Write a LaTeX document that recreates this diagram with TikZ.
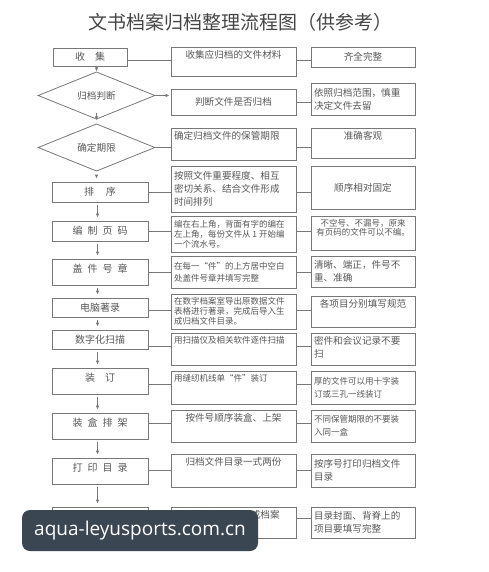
\documentclass[tikz,border=0pt]{standalone}
\usepackage{fontspec}
\setmainfont{Noto Sans CJK SC}
\newfontfamily\wmfont{Open Sans}
\usetikzlibrary{shapes.geometric,arrows.meta}

\definecolor{framec}{HTML}{787878}
\definecolor{inkc}{HTML}{585858}
\definecolor{stampc}{HTML}{3B4653}

\tikzset{
  cell/.style n args={4}{draw=framec, line width=0.8pt, text=inkc,
    inner xsep=3pt, inner ysep=3pt,
    execute at begin node={\begin{minipage}[c][#2][#3]{#1}#4},
    execute at end node={\end{minipage}}},
  bigtext/.style={font=\fontsize{9.6}{13}\selectfont},
  smalltext/.style={font=\fontsize{8.5}{9.8}\selectfont},
}

\begin{document}
\begin{tikzpicture}[x=1pt, y=-1pt,
    stage/.style={draw=framec, line width=0.8pt, text=inkc, inner sep=0pt,
      minimum width=96pt, font=\fontsize{10}{12}\selectfont},
    tall/.style={minimum height=26pt, text depth=7pt},
    judge/.style={diamond, draw=framec, line width=0.8pt, text=inkc, inner sep=0pt,
      minimum width=117pt, font=\fontsize{9.6}{12}\selectfont},
    link/.style={draw=framec, line width=0.8pt},
    flow/.style={link, -{Latex[length=4pt,width=3.5pt]}},
    gap/.style={shorten <=3pt, shorten >=3pt},
    stamp/.style={fill=stampc, rounded corners=8pt, inner sep=0pt,
      minimum width=236pt, minimum height=41pt, text=white,
      font=\wmfont\fontsize{19}{21}\selectfont}]
  \fill[white] (0,0) rectangle (489,572);
  \useasboundingbox (0,0) rectangle (489,572);

  \node[text=inkc!80!black, font=\fontsize{19}{22}\selectfont] (title) at (240.5,22) {文书档案归档整理流程图（供参考）};

  % left column
  \node[stage, minimum width=74pt, minimum height=18pt] (L1) at (90,57) {收\quad 集};
  \node[judge, minimum height=31pt] (D1) at (96.5,95.5) {归档判断};
  \node[judge, minimum height=33pt] (D2) at (96.5,147.5) {确定期限};
  \node[stage, minimum height=20pt] (L4) at (100,192) {排\hspace{1.2em}序};
  \node[stage, minimum height=20pt] (L5) at (100,231) {编\enspace 制\enspace 页\enspace 码};
  \node[stage, tall] (L6) at (100,272) {盖\enspace 件\enspace 号\enspace 章};
  \node[stage, minimum height=19pt] (L7) at (100,307.5) {电脑著录};
  \node[stage, minimum height=19pt] (L8) at (100,339.5) {数字化扫描};
  \node[stage, tall] (L9) at (100,381) {装\quad 订};
  \node[stage, tall] (L10) at (100,426) {装\enspace 盒\enspace 排\enspace 架};
  \node[stage, tall] (L11) at (100,471) {打\enspace 印\enspace 目\enspace 录};
  \node[stage, tall] (L12) at (100,520) {编\enspace 制\enspace 检\enspace 索};

  % middle column
  \node[cell={119pt}{23pt}{t}{\centering}, bigtext] (M1) at (233.5,61.5) {收集应归档的文件材料};
  \node[cell={119pt}{20pt}{c}{\centering}, bigtext] (M2) at (233.5,102) {判断文件是否归档};
  \node[cell={119pt}{26pt}{t}{\raggedright}, bigtext] (M3) at (233.5,144) {确定归档文件的保管期限};
  \node[cell={119pt}{40pt}{c}{\raggedright}, bigtext] (M4) at (233.5,189) {按照文件重要程度、相互\\密切关系、结合文件形成\\时间排列};
  \node[cell={119pt}{30pt}{c}{\raggedright}, smalltext] (M5) at (233.5,234) {编在右上角，背面有字的编在\\左上角，每份文件从 1 开始编\par\centering 一个流水号。};
  \node[cell={119pt}{26pt}{c}{\raggedright}, font=\fontsize{8.5}{12}\selectfont] (M6) at (233.5,272) {在每一“件”的上方居中空白\\处盖件号章并填写完整};
  \node[cell={119pt}{29pt}{c}{\raggedright}, smalltext] (M7) at (233.5,311.5) {在数字档案室导出原数据文件\\表格进行著录，完成后导入生\\成归档文件目录。};
  \node[cell={119pt}{26pt}{t}{\raggedright}, smalltext] (M8) at (233.5,349) {用扫描仪及相关软件逐件扫描};
  \node[cell={119pt}{27pt}{t}{\raggedright}, smalltext] (M9) at (233.5,387.5) {用缝纫机线单“件”装订};
  \node[cell={119pt}{26pt}{t}{\centering}, bigtext] (M10) at (233.5,426) {按件号顺序装盒、上架};
  \node[cell={119pt}{27pt}{t}{\centering}, bigtext] (M11) at (233.5,470.5) {归档文件目录一式两份};
  \node[cell={119pt}{25pt}{t}{\raggedright}, bigtext] (M12) at (233.5,522.5) {写归档说明、装订成档案\\目录};

  % right column
  \node[cell={98pt}{14pt}{c}{\centering}, bigtext] (R1) at (363,57) {齐全完整};
  \node[cell={98pt}{26pt}{c}{\raggedright}, bigtext] (R2) at (363,99) {依照归档范围，慎重\\决定文件去留};
  \node[cell={98pt}{24pt}{t}{\centering}, bigtext] (R3) at (363,143) {准确客观};
  \node[cell={98pt}{37pt}{c}{\centering}, bigtext] (R4) at (363,187.5) {顺序相对固定};
  \node[cell={98pt}{28pt}{t}{\centering}, smalltext] (R5) at (363,233) {不空号、不漏号，原来\\有页码的文件可以不编。};
  \node[cell={98pt}{25pt}{c}{\raggedright}, bigtext] (R6) at (363,271.5) {清晰、端正，件号不\par\centering 重、准确};
  \node[cell={98pt}{25pt}{t}{\centering}, bigtext] (R7) at (363,311.5) {各项目分别填写规范};
  \node[cell={98pt}{26pt}{t}{\raggedright}, bigtext] (R8) at (363,349) {密件和会议记录不要\\扫};
  \node[cell={98pt}{27pt}{c}{\raggedright}, font=\fontsize{8.5}{13}\selectfont] (R9) at (363,387.5) {厚的文件可以用十字装\\订或三孔一线装订};
  \node[cell={98pt}{26pt}{c}{\raggedright}, font=\fontsize{8.5}{13}\selectfont] (R10) at (363,426) {不同保管期限的不要装\\入同一盒};
  \node[cell={98pt}{27pt}{c}{\raggedright}, bigtext] (R11) at (363,470.5) {按序号打印归档文件\\目录};
  \node[cell={98pt}{25pt}{c}{\raggedright}, bigtext] (R12) at (363,522.5) {目录封面、背脊上的\\项目要填写完整};

  % down arrows
  \coordinate (ax) at (97.5,0);
  \draw[flow, shorten <=1pt] (D1.north |- L1.south) -- (D1.north);
  \draw[flow, shorten <=7pt, shorten >=3pt] (D1.south) -- (D2.north);
  \draw[flow, gap] (D2.south) -- (D2.south |- L4.north);
  \draw[flow, gap] (ax |- L4.south) -- (ax |- L5.north);
  \draw[flow, gap] (ax |- L5.south) -- (ax |- L6.north);
  \draw[flow, gap] (ax |- L6.south) -- (ax |- L7.north);
  \draw[flow, gap] (ax |- L7.south) -- (ax |- L8.north);
  \draw[flow, gap] (ax |- L8.south) -- (ax |- L9.north);
  \draw[flow, gap] (ax |- L9.south) -- (ax |- L10.north);
  \draw[flow, gap] (ax |- L10.south) -- (ax |- L11.north);
  \draw[flow, gap] (ax |- L11.south) -- (ax |- L12.north);

  % row links
  \coordinate (r1) at (0,60.5);
  \coordinate (r4) at (0,192);
  \coordinate (r5) at (0,231);
  \coordinate (r6) at (0,272);
  \coordinate (r7) at (0,310);
  \coordinate (r8) at (0,346.5);
  \coordinate (r9) at (0,384);
  \coordinate (r10) at (0,423);
  \coordinate (r11) at (0,470);
  \coordinate (r12) at (0,518);
  \draw[link] (L1.east |- r1) -- (M1.west |- r1) (M1.east |- r1) -- (R1.west |- r1);
  \draw[flow, shorten >=1pt] (D1.east) -- (D1.east -| M2.west);
  \draw[link] (M2.east) -- (M2.east -| R2.west);
  \draw[link] (D2.east) -- (D2.east -| M3.west) (D2.east -| M3.east) -- (D2.east -| R3.west);
  \draw[link] (L4.east |- r4) -- (M4.west |- r4) (M4.east |- r4) -- (R4.west |- r4);
  \draw[link] (L5.east |- r5) -- (M5.west |- r5) (M5.east |- r5) -- (R5.west |- r5);
  \draw[link] (L6.east |- r6) -- (M6.west |- r6) (M6.east |- r6) -- (R6.west |- r6);
  \draw[link] (L7.east |- r7) -- (M7.west |- r7) (M7.east |- r7) -- (R7.west |- r7);
  \draw[link] (L8.east |- r8) -- (M8.west |- r8) (M8.east |- r8) -- (R8.west |- r8);
  \draw[link] (L9.east |- r9) -- (M9.west |- r9) (M9.east |- r9) -- (R9.west |- r9);
  \draw[link] (L10.east |- r10) -- (M10.west |- r10) (M10.east |- r10) -- (R10.west |- r10);
  \draw[link] (L11.east |- r11) -- (M11.west |- r11) (M11.east |- r11) -- (R11.west |- r11);
  \draw[link] (L12.east |- r12) -- (M12.west |- r12) (M12.east |- r12) -- (R12.west |- r12);

  \node[stamp] (wm) at (140,530.5) {aqua-leyusports.com.cn};
\end{tikzpicture}
\end{document}
